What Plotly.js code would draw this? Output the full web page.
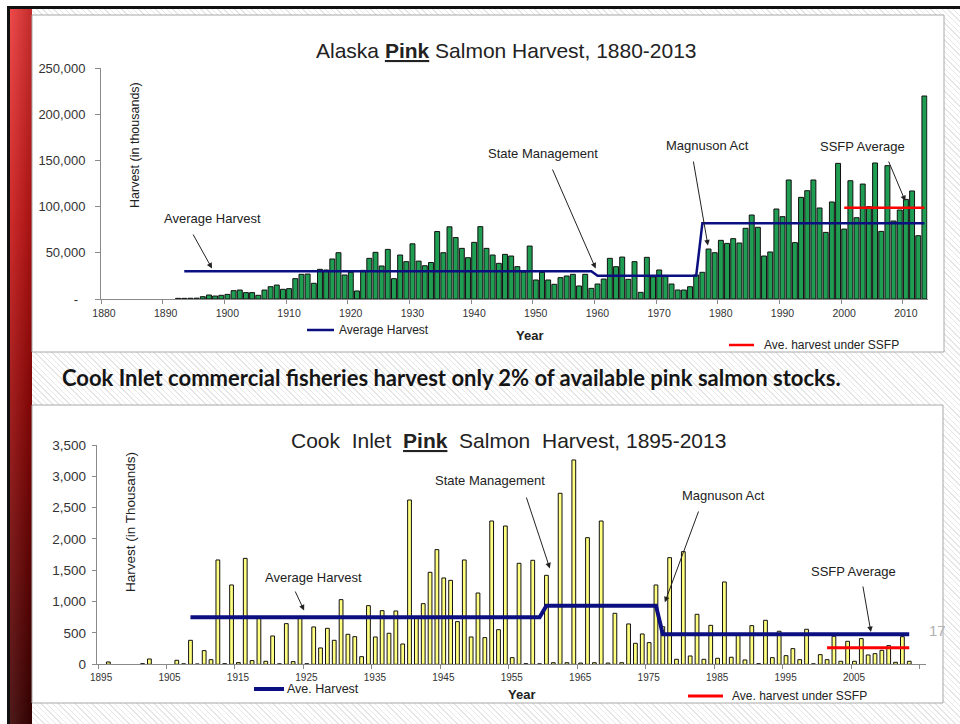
<!DOCTYPE html>
<html>
<head>
<meta charset="utf-8">
<script src="https://cdn.plot.ly/plotly-3.0.1.min.js"></script>
<style>
  html, body { margin: 0; padding: 0; background: #fff; }
  #slide {
    position: relative; width: 960px; height: 724px; overflow: hidden;
    background: repeating-linear-gradient(45deg, #ffffff 0px, #ffffff 3px, #e6e6e6 3px, #e6e6e6 4px);
  }
  .blank { position: absolute; background: #fff; }
  .frame { position: absolute; background: #111; }
  #redBar {
    position: absolute; left: 10px; top: 9px; width: 22px; height: 715px;
    background:
      linear-gradient(to right, rgba(255,255,255,0.10), rgba(0,0,0,0.18)),
      linear-gradient(to bottom, #ec3636 0%, #c81414 30%, #980606 55%, #650202 80%, #3a0000 100%);
  }
  #chart { position: absolute; left: 0; top: 0; width: 960px; height: 724px; }
</style>
</head>
<body>
<div id="slide">
  <div class="blank" style="left:0;top:0;width:960px;height:6px;"></div>
  <div class="blank" style="left:0;top:0;width:7px;height:724px;"></div>
  <div class="frame" style="left:7px;top:6px;width:953px;height:3px;"></div>
  <div class="frame" style="left:7px;top:6px;width:3px;height:718px;"></div>
  <div id="redBar"></div>
  <div id="chart"></div>
</div>
<script>
// ---- Alaska pink salmon harvest (thousands of fish), 1892-2013 ----
const alaskaFirstYear = 1892;
const alaskaHarvest = [
  700, 700, 800, 900, 2500, 4300, 3200, 4000,
  5000, 9000, 9700, 6900, 6900, 4000, 9700, 13300, 15100, 10500,
  11200, 22000, 26700, 27000, 17000, 32100, 31400, 43300, 50100, 26000,
  28900, 8700, 31000, 44000, 50500, 35700, 53700, 22000, 47600, 40400,
  59700, 41000, 36000, 39500, 73000, 50100, 78100, 66500, 54800, 44700,
  61300, 78300, 54800, 47600, 38600, 48300, 46500, 35000, 29200, 57300,
  20600, 28900, 20600, 15900, 23100, 24900, 26700, 14100, 26700, 11500,
  16200, 21600, 44000, 35000, 45400, 21300, 40400, 7200, 45100, 24000,
  31400, 24200, 16200, 9700, 9700, 13300, 26000, 28900, 54100, 50100,
  63500, 60200, 65300, 60600, 76500, 90900, 77600, 46500, 50900, 97400,
  89100, 128800, 61000, 110000, 117200, 128800, 98500, 72100, 105000, 146800,
  75700, 128000, 88000, 124400, 99900, 147200, 73200, 144300, 84400, 96300,
  107800, 116900, 68500, 219700
];
const alaskaYears = alaskaHarvest.map((_, i) => alaskaFirstYear + i);

// period averages (step line) and the SSFP-era average
const alaskaAvgYears  = [1893, 1959, 1960, 1976, 1977, 2013];
const alaskaAvgValues = [30000, 30000, 25200, 25200, 81900, 81900];
const alaskaSsfpYears  = [2000, 2013];
const alaskaSsfpValues = [98800, 98800];

const alaskaTickYears = [1880, 1890, 1900, 1910, 1920, 1930, 1940, 1950, 1960, 1970, 1980, 1990, 2000, 2010];
const alaskaYTicks = [0, 50000, 100000, 150000, 200000, 250000];
const alaskaYLabels = ['-\u00a0\u00a0', '50,000', '100,000', '150,000', '200,000', '250,000'];

// ---- Cook Inlet pink salmon harvest (thousands of fish), 1896-2013; 0 = no catch recorded ----
const cookFirstYear = 1896;
const cookHarvest = [
  37, 0, 0, 0,
  0, 10, 85, 0, 0, 0, 64, 8, 383, 5,
  218, 74, 1665, 10, 1266, 27, 1691, 59, 739, 48,
  452, 8, 649, 43, 739, 10, 596, 261, 574, 383,
  1032, 479, 441, 122, 936, 436, 856, 495, 851, 324,
  2622, 745, 968, 1468, 1830, 1378, 1340, 681, 1665, 436,
  1138, 426, 2287, 553, 2207, 106, 1612, 10, 1660, 8,
  1420, 25, 2729, 25, 3261, 20, 2021, 25, 2287, 20,
  814, 25, 644, 335, 484, 346, 1266, 600, 1702, 80,
  1798, 133, 798, 80, 622, 96, 1314, 112, 470, 69,
  617, 10, 702, 106, 527, 138, 250, 74, 559, 8,
  154, 74, 447, 48, 367, 48, 410, 149, 170, 223,
  298, 32, 441, 48
];
const cookYears = cookHarvest.map((_, i) => cookFirstYear + i);

const cookAvgYears  = [1908, 1959, 1960, 1976, 1977, 2013];
const cookAvgValues = [750, 750, 936, 936, 479, 479];
const cookSsfpYears  = [2001, 2013];
const cookSsfpValues = [266, 266];

const cookTickYears = [1895, 1905, 1915, 1925, 1935, 1945, 1955, 1965, 1975, 1985, 1995, 2005, 2015];

// ---- styling ----
const FONT = 'Liberation Sans, Arial, sans-serif';
const TXT = '#222';
const NAVY = '#0b0f80';

const W = 960, H = 724;
const px = v => v / W;            // pixel column -> paper x
const py = v => 1 - v / H;        // pixel row -> paper y

// years without a catch get no bar at all (not even an outline)
const skipEmpty = arr => arr.map(v => (v === 0 ? null : v));

const traces = [
  { type: 'bar', x: alaskaYears, y: skipEmpty(alaskaHarvest), xaxis: 'x', yaxis: 'y', width: 0.8,
    marker: { color: '#1f9d52', line: { color: '#111', width: 1 } }, hoverinfo: 'skip' },
  { type: 'scatter', mode: 'lines', x: alaskaAvgYears, y: alaskaAvgValues, xaxis: 'x', yaxis: 'y',
    line: { color: NAVY, width: 2.5 }, hoverinfo: 'skip' },
  { type: 'scatter', mode: 'lines', x: alaskaSsfpYears, y: alaskaSsfpValues, xaxis: 'x', yaxis: 'y',
    line: { color: '#ff0000', width: 2.5 }, hoverinfo: 'skip' },

  { type: 'bar', x: cookYears, y: skipEmpty(cookHarvest), xaxis: 'x2', yaxis: 'y2', width: 0.55,
    marker: { color: '#ffff80', line: { color: '#111', width: 1 } }, hoverinfo: 'skip' },
  { type: 'scatter', mode: 'lines', x: cookAvgYears, y: cookAvgValues, xaxis: 'x2', yaxis: 'y2',
    line: { color: NAVY, width: 4 }, hoverinfo: 'skip' },
  { type: 'scatter', mode: 'lines', x: cookSsfpYears, y: cookSsfpValues, xaxis: 'x2', yaxis: 'y2',
    line: { color: '#ff0000', width: 3 }, hoverinfo: 'skip' }
];

const axisBase = {
  showgrid: false, zeroline: false, showline: true, linecolor: '#8a8a8a', linewidth: 1,
  ticks: 'outside', tickcolor: '#8a8a8a', tickwidth: 1, fixedrange: true
};

function textNote(x, y, text, size, opts) {
  return Object.assign({ xref: 'paper', yref: 'paper', x: x, y: y, text: text, showarrow: false,
    font: { family: FONT, size: size, color: TXT }, xanchor: 'center', yanchor: 'middle' }, opts || {});
}
function dataNote(xa, ya, x, y, text) {
  return { xref: xa, yref: ya, x: x, y: y, text: text, showarrow: false,
    font: { family: FONT, size: 13, color: TXT }, xanchor: 'center', yanchor: 'middle' };
}
function pointer(xa, ya, tailX, tailY, headX, headY) {
  return { xref: xa, yref: ya, axref: xa, ayref: ya, x: headX, y: headY, ax: tailX, ay: tailY,
    text: '', showarrow: true, arrowhead: 2, arrowsize: 1.1, arrowwidth: 1, arrowcolor: '#222', standoff: 0 };
}

const annotations = [
  // slide headline
  textNote(px(451), py(377), '<b>Cook Inlet commercial fisheries harvest only 2% of available pink salmon stocks.</b>', 22,
    { font: { family: 'Lato, Noto Sans, sans-serif', size: 22, color: '#151515' } }),
  textNote(px(937), py(630), '17', 15, { font: { family: FONT, size: 15, color: '#b0b0b0' } }),

  // upper chart
  textNote(px(507), py(51), 'Alaska <b><span style="text-decoration:underline">Pink</span></b> Salmon Harvest, 1880-2013', 21),
  textNote(px(135), py(145), 'Harvest (in thousands)', 12.5, { textangle: -90 }),
  textNote(px(529), py(336), '<b>Year</b>', 13),
  textNote(px(337), py(330), 'Average Harvest', 12, { xanchor: 'left' }),
  textNote(px(762), py(345), 'Ave. harvest under SSFP', 12, { xanchor: 'left' }),
  dataNote('x', 'y', 1897.5, 87600, 'Average Harvest'),
  dataNote('x', 'y', 1951.2, 158000, 'State Management'),
  dataNote('x', 'y', 1977.8, 166600, 'Magnuson Act'),
  dataNote('x', 'y', 2003.0, 165500, 'SSFP Average'),
  pointer('x', 'y', 1894.3, 71400, 1897.5, 33000),
  pointer('x', 'y', 1952.6, 141700, 1959.7, 33000),
  pointer('x', 'y', 1975.5, 150400, 1977.9, 58000),
  pointer('x', 'y', 2007.1, 150400, 2009.9, 106000),

  // lower chart
  textNote(px(509), py(440), 'Cook\u00a0 Inlet\u00a0 <b><span style="text-decoration:underline">Pink</span></b>\u00a0 Salmon\u00a0 Harvest, 1895-2013', 21),
  textNote(px(130), py(522), 'Harvest (in Thousands)', 13.5, { textangle: -90 }),
  textNote(px(521), py(694), '<b>Year</b>', 13),
  textNote(px(285), py(689), 'Ave. Harvest', 12.5, { xanchor: 'left' }),
  textNote(px(730), py(696), 'Ave. harvest under SSFP', 12, { xanchor: 'left' }),
  dataNote('x2', 'y2', 1926.0, 1393, 'Average Harvest'),
  dataNote('x2', 'y2', 1951.7, 2941, 'State Management'),
  dataNote('x2', 'y2', 1985.8, 2686, 'Magnuson Act'),
  dataNote('x2', 'y2', 2004.8, 1489, 'SSFP Average'),
  pointer('x2', 'y2', 1923.2, 1186, 1924.6, 860),
  pointer('x2', 'y2', 1957.0, 2686, 1960.5, 1530),
  pointer('x2', 'y2', 1982.3, 2463, 1977.3, 990),
  pointer('x2', 'y2', 2006.2, 1266, 2007.4, 515)
];

const shapes = [
  // white chart panels
  { type: 'rect', xref: 'paper', yref: 'paper', x0: px(32), x1: px(944), y0: py(352), y1: py(15),
    fillcolor: '#ffffff', line: { color: '#a8a8a8', width: 1 }, layer: 'below' },
  { type: 'rect', xref: 'paper', yref: 'paper', x0: px(32), x1: px(943), y0: py(703), y1: py(405),
    fillcolor: '#ffffff', line: { color: '#a8a8a8', width: 1 }, layer: 'below' },
  // legend keys
  { type: 'line', xref: 'paper', yref: 'paper', x0: px(307), x1: px(334), y0: py(330), y1: py(330),
    line: { color: NAVY, width: 2.5 } },
  { type: 'line', xref: 'paper', yref: 'paper', x0: px(729), x1: px(754), y0: py(345), y1: py(345),
    line: { color: '#ff0000', width: 2.5 } },
  { type: 'line', xref: 'paper', yref: 'paper', x0: px(254), x1: px(284), y0: py(689), y1: py(689),
    line: { color: NAVY, width: 4 } },
  { type: 'line', xref: 'paper', yref: 'paper', x0: px(688), x1: px(723), y0: py(696), y1: py(696),
    line: { color: '#ff0000', width: 3 } }
];

const layout = {
  width: W, height: H, margin: { l: 0, r: 0, t: 0, b: 0 },
  paper_bgcolor: 'rgba(0,0,0,0)', plot_bgcolor: 'rgba(0,0,0,0)',
  showlegend: false, barmode: 'overlay',
  xaxis: Object.assign({}, axisBase, {
    domain: [px(101), px(927.5)], range: [1879.5, 2013.5], anchor: 'y',
    tickvals: alaskaTickYears.map(y => y - 0.5), ticktext: alaskaTickYears.map(String),
    ticklen: 4, ticklabelshift: 3, tickfont: { family: FONT, size: 10.5, color: '#333' }
  }),
  yaxis: Object.assign({}, axisBase, {
    domain: [py(299), py(68)], range: [0, 250000], anchor: 'x',
    tickvals: alaskaYTicks, ticktext: alaskaYLabels,
    ticklen: 5, ticklabelstandoff: 7, tickfont: { family: FONT, size: 13, color: '#333' }
  }),
  xaxis2: Object.assign({}, axisBase, {
    domain: [px(96.7), px(926)], range: [1894.3, 2015.45], anchor: 'y2',
    tickvals: cookTickYears.map(y => y - 0.5), ticktext: cookTickYears.map(y => y < 2015 ? String(y) : ''),
    ticklen: 4, ticklabelshift: 3, tickfont: { family: FONT, size: 10, color: '#333' }
  }),
  yaxis2: Object.assign({}, axisBase, {
    domain: [py(664.3), py(445)], range: [0, 3500], anchor: 'x2',
    dtick: 500, tick0: 0, tickformat: ',',
    ticklen: 4, ticklabelstandoff: 3, tickfont: { family: FONT, size: 13.5, color: '#333' }
  }),
  annotations: annotations,
  shapes: shapes
};

Plotly.newPlot('chart', traces, layout, { staticPlot: true, displayModeBar: false });
</script>
</body>
</html>
